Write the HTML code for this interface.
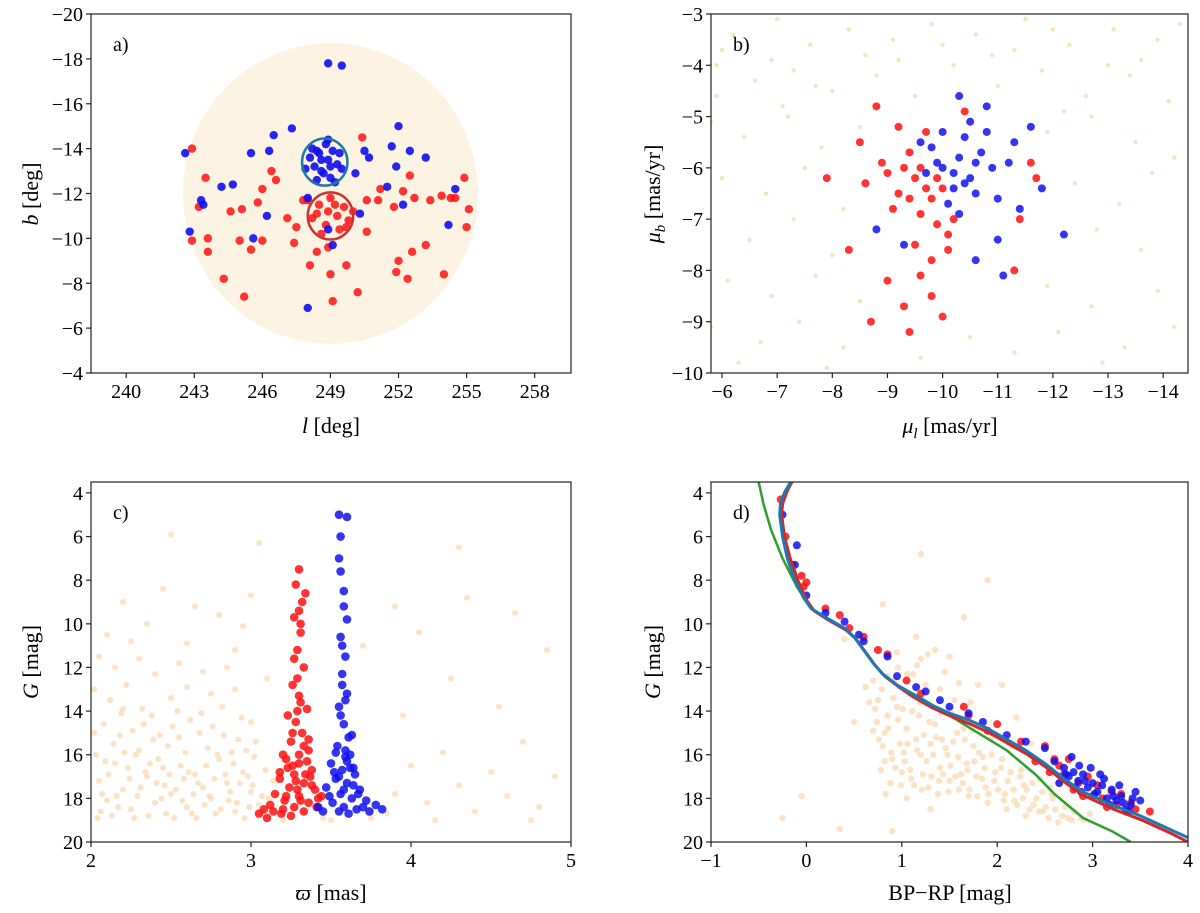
<!DOCTYPE html>
<html><head><meta charset="utf-8"><style>
body{margin:0;background:#fff;}
svg{display:block;}
text{font-family:"Liberation Serif","DejaVu Serif",serif;}
.tk{font-size:20px;fill:#000;}
.al{font-size:22px;fill:#000;}
</style></head><body>
<svg id="fig" width="1200" height="913" viewBox="0 0 1200 913" xmlns="http://www.w3.org/2000/svg"></svg>
<script>
// ---------- DATA ----------
const aRed=[[248.5,-11.5],[249.3,-11.0],[248.8,-10.6],[249.6,-11.4],[248.2,-10.9],[249.0,-11.8],[249.8,-10.8],[248.6,-10.2],[249.4,-10.4],[248.0,-11.7],[250.0,-11.2],[248.9,-11.2],[249.2,-11.5],[248.4,-11.1],[249.7,-10.5],[242.9,-14.0],[243.5,-12.7],[243.2,-11.4],[242.9,-9.9],[243.6,-10.0],[243.6,-9.4],[244.3,-8.2],[244.6,-11.2],[245.0,-9.9],[245.1,-11.3],[245.2,-7.4],[245.5,-9.5],[245.8,-11.6],[246.0,-9.9],[246.0,-12.2],[246.4,-13.0],[246.6,-12.6],[247.1,-10.9],[247.4,-9.8],[247.5,-10.5],[247.8,-11.7],[248.1,-8.8],[248.4,-9.4],[248.9,-9.6],[249.0,-8.4],[249.1,-7.2],[249.7,-8.8],[250.2,-7.6],[250.4,-14.5],[250.6,-10.3],[250.6,-11.7],[251.1,-11.7],[251.2,-12.2],[251.8,-11.4],[252.2,-12.1],[252.0,-9.0],[251.9,-8.5],[252.4,-8.2],[252.6,-9.4],[252.7,-11.8],[252.5,-12.8],[253.4,-11.7],[253.9,-11.9],[254.3,-11.8],[254.5,-11.8],[254.9,-12.7],[255.1,-11.3],[255.0,-10.5],[253.2,-9.7],[254.0,-8.4]];
const aBlue=[[248.5,-13.8],[248.9,-13.5],[248.3,-13.2],[249.1,-13.9],[248.7,-12.9],[249.3,-13.3],[248.1,-13.6],[248.8,-14.2],[249.0,-12.7],[248.4,-12.6],[249.4,-13.8],[248.6,-13.0],[248.2,-14.0],[249.2,-12.5],[248.9,-14.4],[247.9,-13.1],[249.5,-13.1],[248.6,-13.5],[249.0,-13.2],[248.4,-13.9],[242.6,-13.8],[243.3,-11.7],[243.4,-11.5],[242.8,-10.3],[244.2,-12.3],[244.7,-12.4],[245.5,-13.8],[245.6,-10.0],[246.3,-13.9],[246.5,-14.6],[247.3,-14.9],[248.0,-11.8],[248.9,-17.8],[249.5,-17.7],[250.1,-12.9],[250.5,-13.9],[250.7,-13.6],[251.7,-14.1],[252.0,-15.0],[251.9,-13.2],[252.5,-13.9],[253.2,-13.6],[254.5,-12.2],[254.2,-10.6],[248.0,-6.9],[248.9,-10.4],[249.1,-9.7],[246.2,-11.0],[250.3,-11.1],[251.5,-12.3],[252.2,-11.5]];
const aField={l:249,b:-12,rl:6.5,rb:6.7};
const aRings=[{l:248.75,b:-13.4,r:1.0,c:"#1f7aa8"},{l:249.0,b:-11.0,r:1.0,c:"#cc3333"}];

const bRed=[[-9.5,-6.2],[-9.8,-6.6],[-9.3,-6.0],[-9.6,-6.9],[-10.0,-6.4],[-9.2,-6.5],[-9.9,-7.1],[-9.4,-5.7],[-9.7,-5.3],[-10.2,-7.0],[-9.0,-6.1],[-9.1,-6.8],[-9.5,-7.5],[-9.8,-7.8],[-10.1,-7.6],[-9.0,-8.2],[-9.3,-8.7],[-9.6,-8.1],[-9.8,-8.5],[-8.9,-5.9],[-8.6,-6.3],[-8.5,-5.5],[-9.2,-5.2],[-10.4,-4.9],[-11.6,-5.9],[-11.7,-6.2],[-11.4,-7.0],[-7.9,-6.2],[-8.3,-7.6],[-9.4,-9.2],[-8.7,-9.0],[-10.0,-8.9],[-11.3,-8.0],[-8.8,-4.8],[-10.1,-7.3],[-9.7,-6.4],[-9.4,-6.6],[-9.9,-6.2],[-9.6,-6.0]];
const bBlue=[[-10.0,-6.0],[-10.3,-5.8],[-10.5,-6.2],[-9.8,-5.6],[-10.7,-5.7],[-10.2,-6.4],[-9.7,-6.1],[-10.4,-5.4],[-10.9,-6.0],[-10.1,-6.7],[-10.6,-6.5],[-9.9,-5.9],[-10.8,-5.3],[-10.3,-6.9],[-11.0,-6.6],[-9.6,-5.5],[-10.5,-5.1],[-11.2,-5.9],[-10.0,-5.3],[-10.2,-6.1],[-10.6,-5.9],[-10.4,-6.3],[-11.6,-5.2],[-11.4,-6.8],[-12.2,-7.3],[-11.0,-7.4],[-10.6,-7.8],[-11.1,-8.1],[-11.8,-6.4],[-9.3,-7.5],[-10.3,-4.6],[-10.8,-4.8],[-11.3,-5.5],[-8.8,-7.2]];
const bField=[[-5.7,-3.2],[-6.2,-3.4],[-7.0,-3.1],[-7.6,-3.6],[-8.3,-3.3],[-9.1,-3.5],[-9.8,-3.2],[-10.6,-3.4],[-11.5,-3.1],[-12.3,-3.6],[-13.1,-3.3],[-13.9,-3.5],[-14.3,-3.2],[-5.9,-4.0],[-6.6,-4.3],[-7.3,-4.1],[-8.0,-4.5],[-8.8,-4.2],[-9.5,-4.6],[-10.2,-4.0],[-11.0,-4.4],[-11.8,-4.1],[-12.6,-4.6],[-13.4,-4.2],[-14.1,-4.7],[-5.8,-5.1],[-6.4,-5.4],[-7.2,-5.0],[-7.8,-5.6],[-8.5,-5.2],[-11.9,-5.3],[-12.7,-5.0],[-13.5,-5.5],[-14.2,-5.8],[-6.0,-6.2],[-6.8,-6.5],[-7.5,-6.0],[-8.2,-6.8],[-12.4,-6.3],[-13.2,-6.7],[-13.8,-6.1],[-5.7,-7.1],[-6.5,-7.4],[-7.3,-7.0],[-8.0,-7.7],[-12.8,-7.2],[-13.6,-7.6],[-6.1,-8.2],[-6.9,-8.5],[-7.7,-8.1],[-8.5,-8.6],[-11.9,-8.3],[-12.7,-8.7],[-13.9,-8.4],[-5.8,-9.1],[-6.7,-9.4],[-7.4,-9.0],[-8.2,-9.5],[-10.5,-9.3],[-11.3,-9.6],[-12.1,-9.2],[-13.3,-9.5],[-14.2,-9.1],[-6.3,-9.8],[-7.9,-9.9],[-9.6,-9.7],[-12.9,-9.8],[-10.9,-3.8],[-7.1,-4.8],[-9.2,-3.9],[-6.0,-3.7],[-6.9,-3.9],[-8.6,-3.8],[-10.0,-3.6],[-11.3,-3.7],[-12.0,-3.3],[-13.6,-3.9],[-5.9,-4.6],[-7.7,-4.4],[-12.2,-4.9],[-13.0,-4.0]];

const cRed=[[3.30,7.5],[3.28,8.2],[3.32,9.0],[3.27,9.7],[3.31,10.4],[3.29,11.2],[3.33,12.0],[3.26,12.8],[3.30,13.3],[3.35,13.9],[3.28,14.5],[3.32,15.0],[3.25,15.4],[3.36,15.8],[3.22,16.2],[3.30,16.4],[3.38,16.7],[3.27,16.9],[3.18,17.1],[3.33,17.3],[3.24,17.5],[3.40,17.6],[3.15,17.8],[3.30,17.9],[3.21,18.1],[3.36,18.2],[3.12,18.3],[3.27,18.4],[3.42,18.0],[3.33,18.6],[3.19,18.7],[3.08,18.5],[3.30,16.0],[3.26,15.0],[3.34,16.9],[3.29,17.6],[3.23,16.6],[3.37,17.0],[3.31,10.0],[3.29,12.5],[3.34,8.6],[3.2,16.0],[3.35,16.3],[3.28,17.2],[3.22,17.9],[3.38,17.4],[3.14,18.6],[3.25,18.8],[3.41,18.4],[3.18,16.8],[3.31,18.1],[3.26,16.5],[3.36,15.3],[3.23,14.2],[3.31,13.6],[3.1,18.9],[3.05,18.7],[3.44,17.9],[3.2,18.5],[3.33,15.6],[3.29,14.0],[3.27,11.6],[3.3,9.4]];
const cBlue=[[3.55,5.0],[3.60,5.1],[3.56,6.0],[3.55,7.0],[3.58,8.5],[3.60,9.8],[3.56,10.6],[3.59,11.5],[3.57,12.3],[3.60,13.2],[3.55,13.8],[3.58,14.6],[3.61,15.2],[3.54,15.6],[3.62,16.0],[3.50,16.4],[3.57,16.7],[3.65,16.9],[3.53,17.1],[3.60,17.3],[3.47,17.5],[3.68,17.6],[3.56,17.8],[3.63,18.0],[3.51,18.2],[3.72,18.1],[3.58,18.4],[3.45,18.6],[3.78,18.3],[3.66,18.5],[3.60,16.3],[3.55,17.0],[3.59,15.8],[3.64,17.4],[3.57,12.8],[3.52,16.8],[3.62,16.6],[3.58,17.6],[3.49,17.9],[3.67,17.8],[3.55,18.6],[3.7,18.4],[3.61,18.7],[3.53,15.9],[3.63,15.1],[3.56,14.2],[3.59,13.5],[3.74,18.6],[3.82,18.5],[3.42,18.4],[3.59,16.1],[3.64,16.6],[3.57,11.0],[3.58,9.2],[3.56,7.6]];
const cField=[[2.05,17.2],[2.1,18.1],[2.15,16.4],[2.2,17.6],[2.25,18.5],[2.3,15.8],[2.35,17.0],[2.4,18.2],[2.45,16.6],[2.5,17.8],[2.55,15.2],[2.6,18.4],[2.65,16.9],[2.7,17.5],[2.75,18.0],[2.8,16.2],[2.85,17.3],[2.9,18.6],[2.95,16.8],[3.0,17.7],[3.05,18.3],[2.08,14.6],[2.18,15.1],[2.28,16.0],[2.38,14.2],[2.48,15.6],[2.58,17.1],[2.68,15.0],[2.78,18.7],[2.88,15.9],[2.98,17.0],[2.12,13.5],[2.22,12.8],[2.32,13.9],[2.42,16.2],[2.52,18.9],[2.62,14.4],[2.72,16.5],[2.82,13.8],[2.92,15.3],[3.02,16.1],[2.03,16.0],[2.06,18.6],[2.16,17.9],[2.26,14.9],[2.36,18.8],[2.46,17.4],[2.56,16.5],[2.66,18.9],[2.76,14.7],[2.86,18.1],[2.96,18.9],[2.14,15.5],[2.34,16.8],[2.54,14.0],[2.74,17.9],[2.94,14.3],[2.44,18.0],[2.64,17.8],[2.84,16.9],[2.1,10.5],[2.2,9.0],[2.3,11.6],[2.45,8.4],[2.6,10.9],[2.7,12.2],[2.8,9.6],[2.9,11.2],[3.0,8.7],[3.1,12.5],[2.15,12.0],[2.55,11.8],[2.35,10.0],[2.95,10.1],[3.05,6.3],[2.5,5.9],[3.9,17.8],[4.0,16.5],[4.1,18.2],[4.2,15.9],[4.3,17.4],[4.4,18.6],[4.5,16.8],[4.6,17.9],[4.7,15.4],[4.8,18.4],[4.9,17.0],[3.95,14.2],[4.25,12.5],[4.55,13.8],[4.85,11.2],[4.05,10.4],[4.35,8.8],[4.65,9.5],[4.3,6.5],[3.85,18.7],[4.15,19.0],[4.75,19.0],[3.7,11.0],[3.9,9.2],[3.1,18.8],[3.2,19.0],[3.45,18.9],[3.5,19.0],[3.75,18.9],
[2.02,15.0],[2.07,17.8],[2.11,16.9],[2.17,18.4],[2.21,15.9],[2.24,17.1],[2.27,18.9],[2.31,17.5],[2.33,14.6],[2.37,16.4],[2.41,17.3],[2.43,15.1],[2.47,18.7],[2.49,16.9],[2.51,14.7],[2.53,17.6],[2.57,18.1],[2.59,15.9],[2.61,16.8],[2.63,18.7],[2.67,17.3],[2.69,14.1],[2.71,18.3],[2.73,15.7],[2.77,17.1],[2.79,16.0],[2.81,18.5],[2.83,15.1],[2.87,17.7],[2.89,16.4],[2.91,18.2],[2.93,17.3],[2.97,15.8],[2.99,18.4],[3.01,17.4],[3.03,15.4],[3.07,17.9],[3.09,16.7],[3.11,18.0],[3.14,17.2],[2.04,18.9],[2.09,16.3],[2.13,18.8],[2.19,14.1],[2.23,16.6],[2.29,17.9],[2.39,15.3],[2.5,13.4],[2.6,12.9],[2.75,13.2],[2.4,12.3],[2.2,13.9],[2.02,13.0],[2.9,13.0],[3.0,14.5],[2.05,11.5],[2.25,10.8],[2.65,9.2],[2.85,12.0]];

const dRed=[[-0.27,4.3],[-0.22,6.0],[-0.15,7.3],[-0.05,7.8],[0.0,8.1],[-0.03,8.3],[0.2,9.3],[0.35,9.6],[0.45,10.2],[0.75,11.2],[0.85,11.4],[1.05,12.6],[1.65,13.8],[1.7,14.2],[2.0,14.6],[2.25,15.4],[2.5,15.6],[2.6,16.2],[2.65,16.5],[2.7,16.9],[2.75,16.2],[2.85,17.3],[2.95,17.0],[3.0,17.9],[3.05,17.4],[3.1,18.0],[3.2,17.7],[3.25,18.3],[3.3,17.8],[3.4,18.2],[3.45,18.5],[3.6,18.6],[2.55,16.8],[2.4,16.3],[1.2,13.2],[0.6,10.6],[1.9,14.9],[2.9,17.9],[3.15,18.4],[3.35,18.6],[2.8,17.6]];
const dBlue=[[-0.25,5.0],[-0.1,6.4],[-0.12,7.3],[0.0,8.7],[0.2,9.5],[0.4,9.9],[0.55,10.5],[0.6,10.8],[0.85,11.5],[0.95,12.4],[1.15,12.9],[1.25,13.1],[1.4,13.5],[1.5,13.8],[1.7,14.1],[1.85,14.5],[2.1,15.1],[2.3,15.4],[2.5,15.7],[2.6,16.3],[2.7,16.6],[2.75,17.0],[2.8,16.8],[2.85,17.2],[2.9,16.9],[2.95,17.5],[3.0,17.3],[3.05,17.7],[3.1,17.4],[3.15,18.0],[3.2,17.6],[3.25,18.1],[3.3,17.9],[3.4,18.3],[3.5,18.1],[2.65,17.3],[2.88,17.7],[3.08,16.9],[3.35,18.5],[2.78,16.1],[2.82,17.5],[2.92,17.2],[3.02,17.8],[3.12,17.1],[3.22,17.9],[3.32,18.2],[3.42,18.0],[2.72,16.9],[2.98,16.6],[3.18,18.3],[3.38,18.6],[2.86,16.5],[3.45,17.7],[3.28,17.4]];
const dField=[[0.75,13.5],[0.85,14.2],[0.95,13.8],[1.05,14.8],[1.15,15.3],[0.8,15.6],[0.9,16.2],[1.0,16.8],[1.1,17.1],[1.2,16.0],[1.3,15.5],[1.4,16.6],[1.5,17.2],[1.6,17.6],[0.7,14.9],[0.78,16.7],[0.88,17.3],[0.98,15.5],[1.08,13.2],[1.18,14.2],[1.28,17.5],[1.38,17.8],[1.48,16.0],[1.58,15.0],[1.68,16.4],[1.78,17.0],[1.88,17.5],[1.98,16.8],[2.08,17.8],[2.18,18.1],[2.28,17.4],[2.38,18.3],[2.48,18.6],[2.58,18.0],[2.68,18.8],[2.78,19.0],[2.88,18.9],[1.7,17.9],[1.9,18.2],[2.1,18.5],[2.3,18.8],[1.35,14.6],[1.25,12.8],[1.45,12.2],[1.55,13.5],[1.65,14.8],[1.75,15.6],[1.85,16.1],[1.95,15.2],[2.05,16.2],[2.25,16.7],[2.45,17.1],[1.2,11.6],[1.35,11.2],[1.15,10.6],[0.95,11.3],[0.62,12.9],[0.5,14.5],[0.4,10.7],[1.65,9.7],[1.9,8.0],[1.2,6.8],[0.8,9.1],[2.05,12.8],[2.2,14.3],[-0.05,17.9],[-0.25,18.9],[0.35,19.4],[0.9,19.5],[1.05,18.0],[1.3,18.5],[0.83,17.8],[1.12,12.3],[0.92,12.6],[1.02,15.9],[1.22,16.9],[1.42,15.3],[0.72,13.9],[0.82,15.0],[1.52,14.1],[1.62,16.9],[1.72,13.6],[2.15,15.6],[2.35,15.5],[2.55,17.5],[2.65,17.3],
[0.74,14.5],[0.76,15.3],[0.79,13.0],[0.82,16.3],[0.86,14.8],[0.89,15.9],[0.91,13.4],[0.93,16.6],[0.96,14.4],[0.99,17.4],[1.01,13.9],[1.03,16.3],[1.06,15.5],[1.09,16.7],[1.11,14.0],[1.13,17.4],[1.16,15.8],[1.19,13.6],[1.21,17.6],[1.23,15.1],[1.26,16.3],[1.29,14.5],[1.31,17.0],[1.33,16.0],[1.36,15.2],[1.39,17.2],[1.41,14.1],[1.43,16.9],[1.46,15.7],[1.49,17.7],[1.51,16.5],[1.54,15.4],[1.56,17.0],[1.59,16.1],[1.61,14.4],[1.64,17.3],[1.66,15.3],[1.69,16.7],[1.71,17.6],[1.74,14.9],[1.76,16.3],[1.79,17.9],[1.81,15.9],[1.84,17.1],[1.87,16.6],[1.91,17.8],[1.94,16.0],[1.97,17.2],[2.01,17.6],[2.04,16.6],[2.07,18.1],[2.11,17.2],[2.14,16.8],[2.17,17.6],[2.21,18.3],[2.24,17.0],[2.27,18.0],[2.31,17.6],[2.34,18.5],[2.37,17.3],[2.41,18.0],[2.44,18.6],[2.47,17.7],[2.51,18.4],[2.54,18.9],[2.57,17.8],[2.61,18.5],[2.64,19.1],[2.71,18.4],[2.74,18.9],[2.81,18.6],[2.91,19.0],[2.97,18.7],[0.96,12.0],[1.06,12.3],[1.16,11.9],[1.27,11.4],[0.85,12.4],[1.4,13.0],[1.6,12.7],[1.5,11.5],[1.8,12.8],[0.7,12.6],[0.66,13.6]];
const isoBlue=[[-0.15,3.4],[-0.22,3.9],[-0.27,4.4],[-0.28,5.0],[-0.25,6.0],[-0.2,7.0],[-0.12,8.0],[-0.03,8.8],[0.05,9.3],[0.2,9.7],[0.4,10.2],[0.5,10.6],[0.6,11.2],[0.7,11.8],[0.8,12.3],[0.95,12.8],[1.1,13.2],[1.3,13.7],[1.5,14.1],[1.7,14.4],[1.9,14.8],[2.1,15.3],[2.3,15.8],[2.5,16.4],[2.7,17.1],[2.9,17.7],[3.2,18.3],[3.5,18.8],[3.8,19.4],[4.0,19.8]];
const isoRed=[[-0.14,3.4],[-0.2,3.9],[-0.25,4.5],[-0.26,5.0],[-0.23,6.0],[-0.17,7.0],[-0.09,8.0],[0.0,8.9],[0.08,9.4],[0.22,9.8],[0.42,10.3],[0.52,10.7],[0.62,11.3],[0.72,11.9],[0.82,12.4],[0.97,12.9],[1.12,13.35],[1.32,13.85],[1.52,14.25],[1.72,14.6],[1.92,15.0],[2.12,15.5],[2.32,16.0],[2.52,16.6],[2.72,17.3],[2.92,17.9],[3.22,18.5],[3.52,19.0],[3.82,19.6],[4.0,20.0]];
const isoGreen=[[-0.5,3.5],[-0.45,4.5],[-0.37,5.7],[-0.25,7.0],[-0.1,8.3],[0.05,9.3],[0.2,9.7],[0.4,10.2],[0.5,10.6],[0.6,11.2],[0.7,11.8],[0.8,12.3],[0.95,12.8],[1.2,13.4],[1.5,14.2],[1.8,15.0],[2.1,15.8],[2.4,16.9],[2.6,17.8],[2.9,18.9],[3.2,19.5],[3.4,20.0]];

// ---------- LAYOUT ----------
const NS="http://www.w3.org/2000/svg";
const svg=document.getElementById("fig");
function el(tag,attrs,parent){const e=document.createElementNS(NS,tag);for(const k in attrs)e.setAttribute(k,attrs[k]);(parent||svg).appendChild(e);return e;}
const panels={
 a:{x0:91,x1:571,y0:14,y1:373,xd:[238.45,259.6],yd:[-20,-4],xt:[240,243,246,249,252,255,258],yt:[-20,-18,-16,-14,-12,-10,-8,-6,-4]},
 b:{x0:711,x1:1188,y0:14,y1:373,xd:[-5.8,-14.45],yd:[-3,-10],xt:[-6,-7,-8,-9,-10,-11,-12,-13,-14],yt:[-3,-4,-5,-6,-7,-8,-9,-10]},
 c:{x0:91,x1:571,y0:482,y1:842,xd:[2,5],yd:[3.5,20],xt:[2,3,4,5],yt:[4,6,8,10,12,14,16,18,20]},
 d:{x0:711,x1:1188,y0:482,y1:842,xd:[-1,4],yd:[3.5,20],xt:[-1,0,1,2,3,4],yt:[4,6,8,10,12,14,16,18,20]}
};
function sx(p,v){return p.x0+(v-p.xd[0])/(p.xd[1]-p.xd[0])*(p.x1-p.x0);}
function sy(p,v){return p.y0+(v-p.yd[0])/(p.yd[1]-p.yd[0])*(p.y1-p.y0);}
function fmt(v){return v<0?"\u2212"+Math.abs(v):String(v);}

function frame(key){
 const p=panels[key];
 const g=el("g",{});
 
 
 const cp=el("clipPath",{id:"clip-"+key},g);
 el("rect",{x:p.x0,y:p.y0,width:p.x1-p.x0,height:p.y1-p.y0},cp);
 const plot=el("g",{"clip-path":"url(#clip-"+key+")"},g);
 
 
 p.g=g;p.plot=plot;
}
function axes(key){
 const p=panels[key];const g=p.g;
 const box=el("rect",{x:p.x0,y:p.y0,width:p.x1-p.x0,height:p.y1-p.y0,fill:"none",stroke:"#222","stroke-width":1.2},g);
 
 
 p.xt.forEach(v=>{const x=sx(p,v);
  el("line",{x1:x,x2:x,y1:p.y1,y2:p.y1+5,stroke:"#222","stroke-width":1.2},g);
  const t=el("text",{x:x,y:p.y1+25,"text-anchor":"middle",class:"tk"},g);t.textContent=fmt(v);
  
  });
 p.yt.forEach(v=>{const y=sy(p,v);
  el("line",{x1:p.x0-5,x2:p.x0,y1:y,y2:y,stroke:"#222","stroke-width":1.2},g);
  const t=el("text",{x:p.x0-8,y:y+7,"text-anchor":"end",class:"tk"},g);t.textContent=fmt(v);
  
  });
 const pl=el("text",{x:p.x0+22,y:p.y0+37,class:"tk"},g);pl.textContent=key+")";
 
 
}
function pts(key,data,color,r,op,name){
 const p=panels[key];
 data.forEach(d=>{const c=el("circle",{cx:sx(p,d[0]),cy:sy(p,d[1]),r:r,fill:color,"fill-opacity":op},p.plot);
  
  });
}
function line(key,data,color,w,name){
 const p=panels[key];
 const ln=el("polyline",{points:data.map(d=>sx(p,d[0])+","+sy(p,d[1])).join(" "),fill:"none",stroke:color,"stroke-width":w,"stroke-linejoin":"round"},p.plot);
 
 
}
["a","b","c","d"].forEach(k=>frame(k));
(function(){const p=panels.a;
 const f=el("ellipse",{cx:sx(p,aField.l),cy:sy(p,aField.b),rx:Math.abs(sx(p,aField.l+aField.rl)-sx(p,aField.l)),ry:Math.abs(sy(p,aField.b+aField.rb)-sy(p,aField.b)),fill:"#fdf3e3"},p.plot);
 
 
 pts("a",aRed,"#ff1010",4.2,0.85,"red-star");
 pts("a",aBlue,"#1010ee",4.2,0.9,"blue-star");
 aRings.forEach(r=>{const c=el("ellipse",{cx:sx(p,r.l),cy:sy(p,r.b),rx:Math.abs(sx(p,r.l+r.r)-sx(p,r.l)),ry:Math.abs(sy(p,r.b+r.r*1.05)-sy(p,r.b)),fill:"none",stroke:r.c,"stroke-width":2.5},p.plot);
  
  });
})();
pts("b",bField,"#fbd9b0",2.2,0.8,"field-star");
pts("b",bRed,"#ff1010",4,0.85,"red-star");
pts("b",bBlue,"#1010ee",4,0.85,"blue-star");
pts("c",cField,"#fbdcb8",3,0.8,"field-star");
pts("c",cRed,"#ff1010",4.3,0.85,"red-star");
pts("c",cBlue,"#1010ee",4.3,0.85,"blue-star");
pts("d",dField,"#fbdcb8",3.2,0.8,"field-star");
line("d",isoGreen,"#2ca02c",2.5,"isochrone-green");
pts("d",dRed,"#ff1010",4,0.85,"red-star");
pts("d",dBlue,"#1010ee",4,0.85,"blue-star");
line("d",isoRed,"#d62728",3,"isochrone-red");
line("d",isoBlue,"#1f77b4",3,"isochrone-blue");
["a","b","c","d"].forEach(k=>axes(k));
function title(x,y,html,rot,name){const t=el("text",{x:x,y:y,"text-anchor":"middle",class:"al"});
 if(rot)t.setAttribute("transform","rotate(-90 "+x+" "+y+")");t.innerHTML=html;
 
 }
title(331,433,'<tspan font-style="italic">l</tspan>  [deg]',false,"x-axis-title-a");
title(38,194,'<tspan font-style="italic">b</tspan>  [deg]',true,"y-axis-title-a");
title(950,433,'<tspan font-style="italic">μ</tspan><tspan font-size="15" dy="5" font-style="italic">l</tspan><tspan dy="-5">  [mas/yr]</tspan>',false,"x-axis-title-b");
title(660,194,'<tspan font-style="italic">μ</tspan><tspan font-size="15" dy="5" font-style="italic">b</tspan><tspan dy="-5">  [mas/yr]</tspan>',true,"y-axis-title-b");
title(331,900,'<tspan font-style="italic">ϖ</tspan> [mas]',false,"x-axis-title-c");
title(38,662,'<tspan font-style="italic">G</tspan>  [mag]',true,"y-axis-title-c");
title(950,900,'BP−RP [mag]',false,"x-axis-title-d");
title(660,662,'<tspan font-style="italic">G</tspan>  [mag]',true,"y-axis-title-d");
</script>
</body></html>
